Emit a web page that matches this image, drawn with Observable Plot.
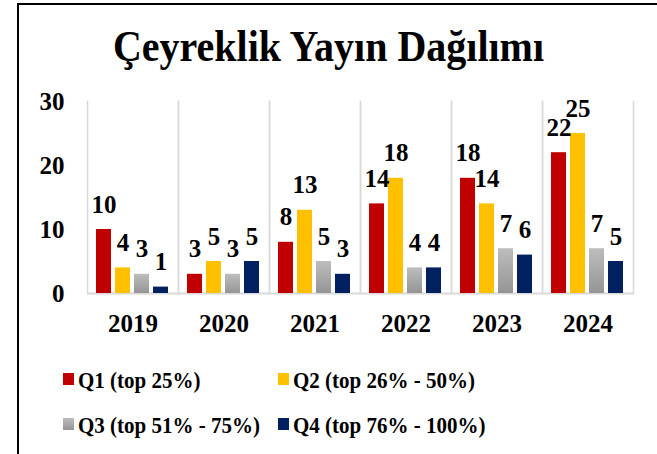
<!DOCTYPE html>
<html>
<head>
<meta charset="utf-8">
<script src="https://cdn.jsdelivr.net/npm/d3@7"></script>
<script src="https://cdn.jsdelivr.net/npm/@observablehq/plot@0.6"></script>
<style>
  html, body { margin: 0; padding: 0; background: #fff; }
  body { width: 657px; height: 454px; position: relative; overflow: hidden;
         font-family: 'Liberation Serif', 'Times New Roman', serif; font-weight: bold; }
  #frame { position: absolute; left: 17px; top: 3px; width: 700px; height: 500px;
           border-top: 2px solid #000; border-left: 2px solid #000; box-sizing: border-box; }
  #title { position: absolute; left: 0; top: 22px; width: 657px; text-align: center;
           font-size: 40px; line-height: 50px; color: #000;
           transform: scaleY(1.1); transform-origin: center; }
  #chart { position: absolute; left: 0; top: 80px; }
  #chart svg text { font-family: 'Liberation Serif', 'Times New Roman', serif; font-weight: bold; }
  .leg { position: absolute; font-size: 21px; line-height: 24px; color: #000; white-space: nowrap;
         transform: scaleY(1.1); transform-origin: left center; }
  .sw { position: absolute; width: 11px; height: 12px; }
</style>
</head>
<body>
<div id="frame"></div>
<div id="title">Çeyreklik Yayın Dağılımı</div>
<div id="chart"></div>
<div id="legend"></div>
<script>
const years = ["2019", "2020", "2021", "2022", "2023", "2024"];
const quarters = ["Q1", "Q2", "Q3", "Q4"];
const quarterLabels = ["Q1 (top 25%)", "Q2 (top 26% - 50%)", "Q3 (top 51% - 75%)", "Q4 (top 76% - 100%)"];
const q1 = [10, 3, 8, 14, 18, 22];
const q2 = [4, 5, 13, 18, 14, 25];
const q3 = [3, 3, 5, 4, 7, 7];
const q4 = [1, 5, 3, 4, 6, 5];
const yTicks = [0, 10, 20, 30];
const colors = ["#C00000", "#FFC000", "url(#gradQ3)", "#002060"];

const series = [q1, q2, q3, q4];
const data = [];
years.forEach((yr, i) => {
  quarters.forEach((q, j) => data.push({year: yr, q, value: series[j][i]}));
});

const font = "'Liberation Serif', 'Times New Roman', serif";
const chart = Plot.plot({
  width: 657,
  height: 270,
  marginLeft: 85,
  marginRight: 22,
  marginTop: 21,
  marginBottom: 57,
  style: {fontFamily: font, fontWeight: "bold", fontSize: "25px", color: "#000", background: "transparent"},
  fx: {domain: years, padding: 0, label: null, tickSize: 0, tickPadding: 21, axis: "bottom"},
  x: {domain: quarters, paddingInner: 0.2, paddingOuter: 0.4, axis: null},
  y: {domain: [0, 30], ticks: yTicks, tickSize: 0, tickPadding: 23, label: null, tickFormat: d => d},
  color: {domain: quarters, range: colors},
  marks: [
    Plot.frame({anchor: "left", stroke: "#d9d9d9", strokeWidth: 1.5}),
    Plot.frame({anchor: "right", stroke: "#d9d9d9", strokeWidth: 1.5}),
    Plot.ruleY([0], {stroke: "#d9d9d9", strokeWidth: 2}),
    Plot.barY(data, {fx: "year", x: "q", y: "value", fill: "q",
      style: {filter: "drop-shadow(1px 1px 1.5px rgba(0,0,0,0.25))"}}),
    Plot.text(data, {fx: "year", x: "q", y: "value", text: d => String(d.value),
      dy: -25, fontSize: 25, fontWeight: "bold", fill: "#000"})
  ]
});

// gradient for Q3 bars
const ns = "http://www.w3.org/2000/svg";
const defs = document.createElementNS(ns, "defs");
defs.innerHTML = '<linearGradient id="gradQ3" x1="0" y1="0" x2="0" y2="1">' +
  '<stop offset="0" stop-color="#BDBDBD"/><stop offset="1" stop-color="#959595"/></linearGradient>';
chart.insertBefore(defs, chart.firstChild);
document.getElementById("chart").appendChild(chart);

// legend
const legend = document.getElementById("legend");
const legPos = [[63, 380], [278, 380], [63, 425], [278, 425]];
const swatchCss = ["#C00000", "#FFC000", "linear-gradient(#BDBDBD, #959595)", "#002060"];
quarterLabels.forEach((lab, i) => {
  const [x, y] = legPos[i];
  const sw = document.createElement("div");
  sw.className = "sw";
  sw.style.left = x + "px";
  sw.style.top = (y - 7) + "px";
  sw.style.background = swatchCss[i];
  legend.appendChild(sw);
  const t = document.createElement("div");
  t.className = "leg";
  t.style.left = (x + 15) + "px";
  t.style.top = (y - 12) + "px";
  t.textContent = lab;
  legend.appendChild(t);
});
</script>
</body>
</html>
